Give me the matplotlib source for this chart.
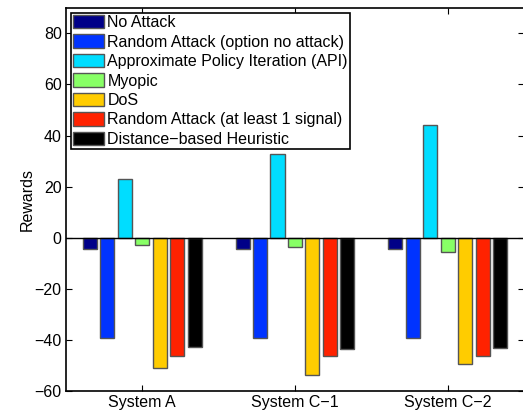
import numpy as np
import matplotlib.pyplot as plt

plt.rcParams['font.family'] = ['Liberation Sans', 'DejaVu Sans']

systems = ["System A", "System C\u22121", "System C\u22122"]
methods = [
    "No Attack",
    "Random Attack (option no attack)",
    "Approximate Policy Iteration (API)",
    "Myopic",
    "DoS",
    "Random Attack (at least 1 signal)",
    "Distance\u2212based Heuristic",
]
colors = ["#000088", "#0033ff", "#00ddff", "#88ff66", "#ffcc00", "#ff2200", "#000000"]

# rewards per method, one value per system
no_attack = [-4.4, -4.4, -4.4]
random_no_attack = [-39.3, -39.3, -39.3]
api = [23.0, 32.7, 44.3]
myopic = [-2.7, -3.7, -5.4]
dos = [-51.1, -53.7, -49.5]
random_one_signal = [-46.4, -46.4, -46.4]
distance_heuristic = [-42.9, -43.5, -43.0]

series = [no_attack, random_no_attack, api, myopic, dos,
          random_one_signal, distance_heuristic]

fig = plt.figure(figsize=(5.23, 4.12), dpi=100)
ax = fig.add_axes([0.126, 0.051, 0.876, 0.930])

x = np.arange(1, len(systems) + 1)
step = 0.1144
width = 0.092
for i, (vals, col, lab) in enumerate(zip(series, colors, methods)):
    offs = (i - 3) * step
    ax.bar(x + offs, vals, width, color=col, edgecolor="#555555",
           linewidth=1.0, label=lab, zorder=2)

ax.axhline(0, color="black", linewidth=1.0, zorder=3)

for s in ax.spines.values():
    s.set_linewidth(1.2)

ax.set_xlim(0.5, 3.5)
ax.set_ylim(-60, 90)
ax.set_xticks(x)
ax.set_xticklabels(systems)
ax.set_yticks(np.arange(-60, 81, 20))
ax.set_yticklabels([str(v).replace("-", "\u2212") for v in range(-60, 81, 20)])
ax.tick_params(direction="in", top=True, right=True, labelsize=11.5, length=4,
               pad=3)
ax.set_ylabel("Rewards", fontsize=11.5, labelpad=0)

leg = ax.legend(loc="upper left", fontsize=11.5, frameon=True, fancybox=False,
                edgecolor="black", framealpha=1, borderpad=0.15,
                labelspacing=0.27, handlelength=1.95, handleheight=0.9,
                handletextpad=0.2, borderaxespad=0.3)
leg.get_frame().set_linewidth(1.2)

fig.savefig("out.png", dpi=100)
